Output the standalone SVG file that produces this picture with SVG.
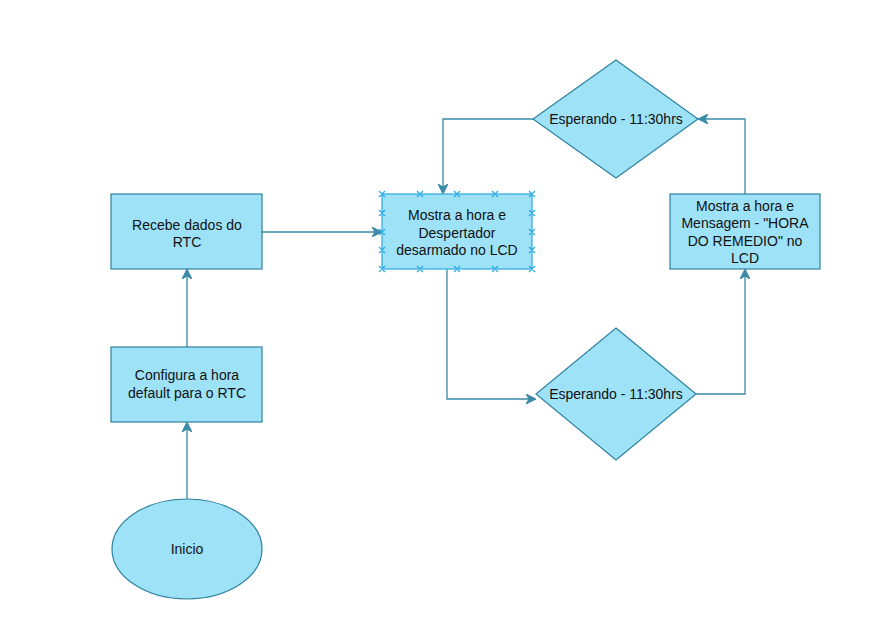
<svg xmlns="http://www.w3.org/2000/svg" width="879" height="631" viewBox="0 0 879 631">
<style>
.n{fill:#9ee2f8;stroke:#2f82a0;stroke-width:1.2}
.t{font-family:"Liberation Sans",Arial,sans-serif;font-size:14px;fill:#111;text-anchor:middle}
.c{fill:none;stroke:#3a8aa6;stroke-width:1.3}
.h{fill:#3a8aa6;stroke:#3a8aa6}
.sel{stroke:#2aa9e0;stroke-width:1.2;fill:none}
</style>
<defs>
<marker id="a" viewBox="0 0 10 10" refX="9" refY="5" markerWidth="10" markerHeight="10" markerUnits="userSpaceOnUse" orient="auto">
<path d="M0,0 L10,5 L0,10 L3,5 Z" class="h"/>
</marker>
</defs>
<rect width="879" height="631" fill="#fff"/>
<g id="connectors">
<path class="c" d="M187,499 V423" marker-end="url(#a)"/>
<path class="c" d="M187,347 V270" marker-end="url(#a)"/>
<path class="c" d="M262,232 H381" marker-end="url(#a)"/>
<path class="c" d="M447,269 V399 H535" marker-end="url(#a)"/>
<path class="c" d="M696,394 H745 V270" marker-end="url(#a)"/>
<path class="c" d="M745,194 V119 H699" marker-end="url(#a)"/>
<path class="c" d="M533,119 H443 V193" marker-end="url(#a)"/>
</g>
<g id="inicio">
<ellipse class="n" cx="187" cy="549" rx="75" ry="50"/>
<text class="t" x="187" y="554">Inicio</text>
</g>
<g id="configura">
<rect class="n" x="111" y="347" width="151" height="75"/>
<text class="t" x="187" y="380">Configura a hora</text>
<text class="t" x="187" y="398">default para o RTC</text>
</g>
<g id="recebe">
<rect class="n" x="111" y="194" width="151" height="75"/>
<text class="t" x="187" y="230">Recebe dados do</text>
<text class="t" x="187" y="247">RTC</text>
</g>
<g id="mostra">
<rect class="n" x="382" y="194" width="150" height="75" style="stroke:#2aa9e0"/>
<text class="t" x="457" y="220">Mostra a hora e</text>
<text class="t" x="457" y="238">Despertador</text>
<text class="t" x="457" y="255">desarmado no LCD</text>
<path class="sel" d="M379,191l6,6m0,-6l-6,6 M417,191l6,6m0,-6l-6,6 M454,191l6,6m0,-6l-6,6 M492,191l6,6m0,-6l-6,6 M529,191l6,6m0,-6l-6,6
M379,266l6,6m0,-6l-6,6 M417,266l6,6m0,-6l-6,6 M454,266l6,6m0,-6l-6,6 M492,266l6,6m0,-6l-6,6 M529,266l6,6m0,-6l-6,6
M379,210l6,6m0,-6l-6,6 M379,229l6,6m0,-6l-6,6 M379,247l6,6m0,-6l-6,6
M529,210l6,6m0,-6l-6,6 M529,229l6,6m0,-6l-6,6 M529,247l6,6m0,-6l-6,6"/>
</g>
<g id="esperando-top">
<polygon class="n" points="616,60 698,119 616,178 533,119"/>
<text class="t" x="616" y="124">Esperando - 11:30hrs</text>
</g>
<g id="esperando-bottom">
<polygon class="n" points="616,328 696,394 616,460 536,394"/>
<text class="t" x="616" y="399">Esperando - 11:30hrs</text>
</g>
<g id="mensagem">
<rect class="n" x="670" y="194" width="150" height="75"/>
<text class="t" x="745" y="211">Mostra a hora e</text>
<text class="t" x="745" y="228">Mensagem - "HORA</text>
<text class="t" x="745" y="246">DO REMEDIO" no</text>
<text class="t" x="745" y="263">LCD</text>
</g>
</svg>
